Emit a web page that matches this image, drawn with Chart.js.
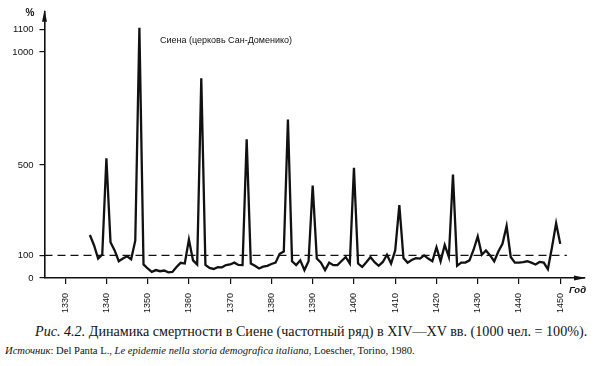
<!DOCTYPE html>
<html><head><meta charset="utf-8">
<script src="https://cdn.jsdelivr.net/npm/chart.js@4"></script>
<style>
html,body{margin:0;padding:0;background:#fff;}
#wrap{position:relative;width:600px;height:366px;overflow:hidden;background:#fff;}
#c{position:absolute;left:0;top:0;}
.cap{position:absolute;font-family:'Liberation Serif','Times New Roman',serif;color:#111;white-space:nowrap;line-height:1;}
</style></head><body>
<div id="wrap">
<canvas id="c" width="600" height="320"></canvas>
<div class="cap" id="cap1" style="left:35px;top:324px;font-size:14px"><i>Рис. 4.2.</i> Динамика смертности в Сиене (частотный ряд) в XIV—XV вв. (1000 чел. = 100%).</div>
<div class="cap" id="cap2" style="left:5px;top:346px;font-size:10.6px"><i>Источник</i>: Del Panta L., <i>Le epidemie nella storia demografica italiana</i>, Loescher, Torino, 1980.</div>
</div>
<script>
// ---- data ----
const years = [1336,1337,1338,1339,1340,1341,1342,1343,1344,1345,1346,1347,1348,1349,1350,
  1351,1352,1353,1354,1355,1356,1357,1358,1359,1360,1361,1362,1363,1364,1365,
  1366,1367,1368,1369,1370,1371,1372,1373,1374,1375,1376,1377,1378,1379,1380,
  1381,1382,1383,1384,1385,1386,1387,1388,1389,1390,1391,1392,1393,1394,1395,
  1396,1397,1398,1399,1400,1401,1402,1403,1404,1405,1406,1407,1408,1409,1410,
  1411,1412,1413,1414,1415,1416,1417,1418,1419,1420,1421,1422,1423,1424,1425,
  1426,1427,1428,1429,1430,1431,1432,1433,1434,1435,1436,1437,1438,1439,1440,
  1441,1442,1443,1444,1445,1446,1447,1448,1449,1450];
const mortality = [190,145,86,104,530,158,122,74,86,96,83,165,1107,60,42,
  27,35,30,33,25,27,49,67,64,170,78,60,883,58,45,
  40,48,47,57,60,68,58,57,614,64,54,42,50,54,62,
  68,107,117,701,74,57,78,35,74,409,86,68,35,68,57,
  57,75,93,64,488,64,49,70,93,70,54,71,103,64,122,
  322,88,68,80,88,86,100,86,74,136,74,146,93,458,54,
  68,68,78,125,184,103,122,100,74,117,151,230,93,68,68,
  70,74,68,60,71,68,39,136,242,151];
const xTickYears = [1330,1340,1350,1360,1370,1380,1390,1400,1410,1420,1430,1440,1450];
const yTickValues = [0,100,500,1000,1100];
const baseLevel = 100;          // 1000 чел. = 100%
const baseFrom = 1325, baseTo = 1451.6;
const seriesLabel = 'Сиена (церковь Сан-Доменико)';

const sans = "'Liberation Sans',Arial,sans-serif";

// fit caption lines to the widths they take in the original
function fitWidth(id, target) {
  const el = document.getElementById(id);
  const fs = parseFloat(el.style.fontSize);
  const w = el.getBoundingClientRect().width;
  if (w > 0) el.style.fontSize = (fs * target / w).toFixed(2) + 'px';
}
fitWidth('cap1', 553);
fitWidth('cap2', 410);

const deco = {
  id: 'deco',
  afterDraw(chart) {
    const {ctx, chartArea: a} = chart;
    ctx.save();
    ctx.fillStyle = '#111';
    // y arrow
    ctx.beginPath();
    ctx.moveTo(a.left, a.top - 2);
    ctx.lineTo(a.left - 2.5, a.top + 10);
    ctx.lineTo(a.left + 2.5, a.top + 10);
    ctx.closePath(); ctx.fill();
    // x arrow
    ctx.beginPath();
    ctx.moveTo(a.right + 1, a.bottom);
    ctx.lineTo(a.right - 11, a.bottom - 2.5);
    ctx.lineTo(a.right - 11, a.bottom + 2.5);
    ctx.closePath(); ctx.fill();
    // texts
    ctx.font = "bold 10px " + sans;
    ctx.textAlign = 'center'; ctx.textBaseline = 'middle';
    ctx.fillText('%', 30, 13);
    ctx.font = "9px " + sans;
    ctx.textAlign = 'left';
    ctx.fillText(seriesLabel, 160, 41);
    ctx.font = "italic bold 9.5px " + sans;
    ctx.fillText('Год', 569, 290);
    ctx.restore();
  }
};

new Chart(document.getElementById('c'), {
  type: 'line',
  data: {
    datasets: [
      {
        data: years.map((yr, i) => ({x: yr, y: mortality[i]})),
        borderColor: '#111', borderWidth: 2.3, pointRadius: 0,
        tension: 0, borderJoinStyle: 'miter', fill: false
      },
      {
        data: [{x: baseFrom, y: baseLevel}, {x: baseTo, y: baseLevel}],
        borderColor: '#111', borderWidth: 1.3, borderDash: [8, 5],
        pointRadius: 0, fill: false
      }
    ]
  },
  options: {
    responsive: false, animation: false,
    layout: {padding: {left: 0, right: 15, top: 7, bottom: 0}},
    plugins: {legend: {display: false}, tooltip: {enabled: false}},
    scales: {
      x: {
        type: 'linear', min: 1325, max: 1456,
        afterBuildTicks: s => { s.ticks = xTickYears.map(v => ({value: v})); },
        afterFit: s => { s.height = 42; },
        border: {display: true, color: '#111', width: 1.6},
        grid: {drawOnChartArea: false, drawTicks: true, tickLength: 6, color: '#111', lineWidth: 1.2},
        ticks: {minRotation: 90, maxRotation: 90, padding: 9, color: '#111',
          font: {family: sans, size: 9}, callback: v => String(v)}
      },
      y: {
        type: 'linear', min: 0, max: 1178,
        afterBuildTicks: s => { s.ticks = yTickValues.map(v => ({value: v})); },
        afterFit: s => { s.width = 44.5; },
        border: {display: true, color: '#111', width: 1.6},
        grid: {drawOnChartArea: false, drawTicks: true, tickLength: 5, color: '#111', lineWidth: 1.2},
        ticks: {padding: 6, color: '#111', font: {family: sans, size: 9.5}, callback: v => String(v)}
      }
    }
  },
  plugins: [deco]
});
</script>
</body></html>
